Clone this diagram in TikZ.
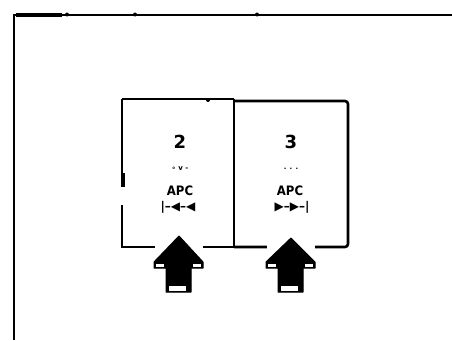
\documentclass[tikz,border=0pt]{standalone}
\usepackage{fontspec}
\newfontfamily\dejavu{DejaVu Sans}
\newfontfamily\dejavucond{DejaVu Sans Condensed}
\begin{document}
\begin{tikzpicture}[x=1pt,y=-1pt,
  wall/.style={line width=2.6pt,black},
  bigarrow/.style={fill=black,draw=black,line width=1pt,line join=round},
  numtxt/.style={font=\dejavu\bfseries\fontsize{18}{18}\selectfont,inner sep=0pt},
  smalltxt/.style={font=\dejavu\bfseries\fontsize{7}{7}\selectfont,inner sep=0pt},
  apctxt/.style={font=\dejavucond\bfseries\fontsize{13}{13}\selectfont,inner sep=0pt},
  symtxt/.style={font=\dejavu\bfseries\fontsize{12}{12}\selectfont,inner sep=0pt}]
\useasboundingbox (0,0) rectangle (452,340);
\fill[white] (0,0) rectangle (452,340);
% outer frame
\draw[wall] (14,340) -- (14,15) -- (452,15);
\fill (16,12.5) rectangle (62,16.5);
\foreach \x in {67,135,257} \fill (\x,14.5) circle (2);
% box 2
\draw[wall] (122,99) -- (234,99);
\draw[wall] (122,99) -- (122,187);
\fill (120.5,173) rectangle (125,187);
\draw[wall] (122,205) -- (122,247) -- (234,247);
\fill (208,100) circle (2);
% box 3
\draw[wall,rounded corners=3pt] (234,101) -- (348,101) -- (348,247) -- (234,247);
\draw[wall] (234,99) -- (234,247);
% texts
\node[numtxt] (n2) at (180,142) {2};
\node[smalltxt] (d2) at (180,169) {∘ v -};
\node[apctxt] (a2) at (180,191) {APC};
\node[symtxt] (s2) at (178,207) {|–◀–◀};
\node[numtxt] (n3) at (291,142) {3};
\node[smalltxt] (d3) at (291,169) {. . .};
\node[apctxt] (a3) at (290,191) {APC};
\node[symtxt] (s3) at (292,207) {▶–▶–|};
% arrows
\foreach \c/\t in {179/236,291/238}{
  \fill[white] (\c-24,244) rectangle (\c+24,250);
  \draw[bigarrow] (\c,\t) -- (\c+24,262) -- (\c+24,268) -- (\c+12,268) -- (\c+12,292) -- (\c-13,292) -- (\c-13,268) -- (\c-25,268) -- (\c-25,262) -- cycle;
  \fill[white] (\c-23,263.5) rectangle (\c-15,266.5);
  \fill[white] (\c+14,263.5) rectangle (\c+22,266.5);
  \fill[white] (\c-10,286) rectangle (\c+7,291);
}
\end{tikzpicture}
\end{document}
